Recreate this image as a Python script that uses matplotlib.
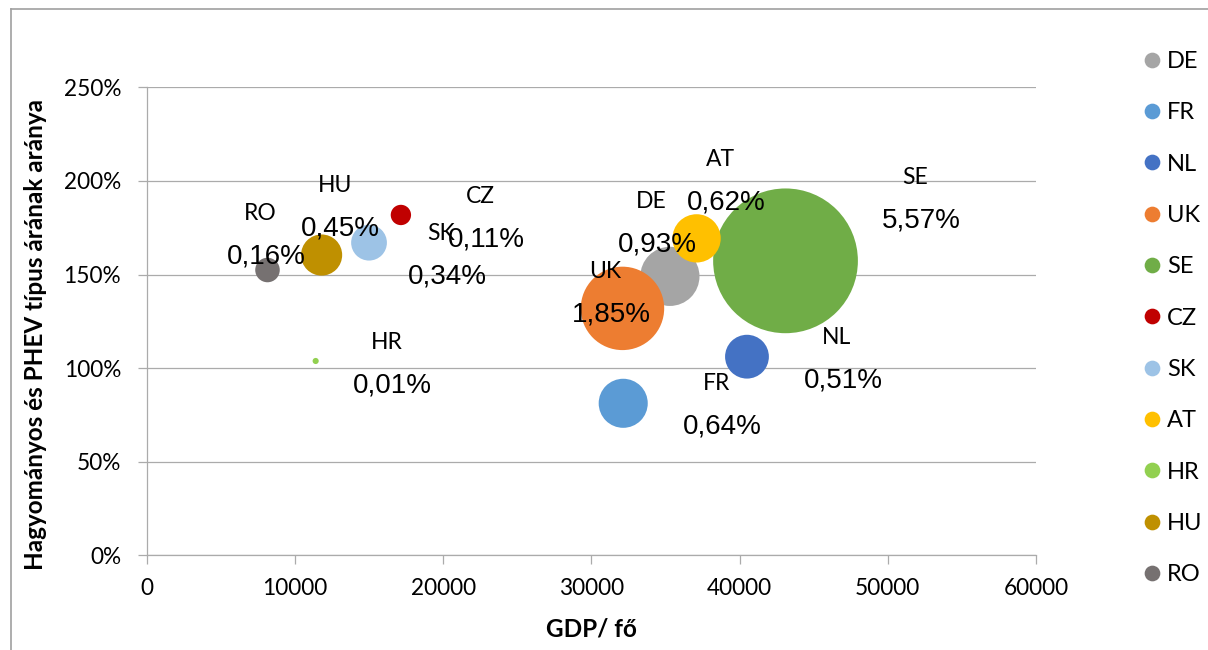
import matplotlib
matplotlib.use("Agg")
import matplotlib.pyplot as plt
from matplotlib.lines import Line2D
from matplotlib.ticker import FuncFormatter, MultipleLocator

# Countries, GDP per capita, conventional/PHEV price ratio and market share (%)
countries = ["DE", "FR", "NL", "UK", "SE", "CZ", "SK", "AT", "HR", "HU", "RO"]
gdp_per_capita = [35300, 32150, 40500, 32100, 43100, 17150, 15000, 37100, 11400, 11800, 8150]
price_ratio = [1.490, 0.812, 1.061, 1.319, 1.573, 1.818, 1.670, 1.693, 1.038, 1.604, 1.524]
phev_share = [0.93, 0.64, 0.51, 1.85, 5.57, 0.11, 0.34, 0.62, 0.01, 0.45, 0.16]

colors = ["#A5A5A5", "#5B9BD5", "#4472C4", "#ED7D31", "#70AD47", "#C00000",
          "#9DC3E6", "#FFC000", "#92D050", "#BF9000", "#767171"]

# label placement (pixel offsets of the name line from the bubble centre)
name_offsets = {
    "DE": (-19, -75), "FR": (93, -20), "NL": (90, -19), "UK": (-17, -37),
    "SE": (130, -83), "CZ": (79, -18), "SK": (72, -9), "AT": (24, -79),
    "HR": (71, -18), "HU": (13, -70), "RO": (-7, -57),
}
value_shift = (6, 43)

DPI = 100
PX = 72 / DPI
BUBBLE_SCALE = 1950  # marker area (pt^2) per percent of share

sans = "Lato"

fig = plt.figure(figsize=(12.08, 6.5), dpi=DPI)
fig.patch.set_facecolor("white")

left, right, bottom, top = 146.7, 1036, 555.3, 87.3
ax = fig.add_axes([left / 1208, 1 - bottom / 650, (right - left) / 1208, (bottom - top) / 650])

for i, c in enumerate(countries):
    ax.scatter([gdp_per_capita[i]], [price_ratio[i]], s=phev_share[i] * BUBBLE_SCALE,
               color=colors[i], edgecolors="none", zorder=3 + i, clip_on=False)

for i, c in enumerate(countries):
    dx, dy = name_offsets[c]
    ax.annotate(c, (gdp_per_capita[i], price_ratio[i]), xytext=(dx * PX, -dy * PX),
                textcoords="offset points", ha="center", va="center",
                fontsize=16.5, family=sans, color="black", zorder=30)
    label = f"{phev_share[i]:.2f}%".replace(".", ",")
    ax.annotate(label, (gdp_per_capita[i], price_ratio[i]),
                xytext=((dx + value_shift[0]) * PX, -(dy + value_shift[1]) * PX),
                textcoords="offset points", ha="center", va="center",
                fontsize=20, family="Liberation Sans", color="black", zorder=30)

ax.set_xlim(0, 60000)
ax.set_ylim(0, 2.5)
ax.xaxis.set_major_locator(MultipleLocator(10000))
ax.yaxis.set_major_locator(MultipleLocator(0.5))
ax.yaxis.set_major_formatter(FuncFormatter(lambda v, p: f"{v * 100:.0f}%"))

grid_c = "#ABABAB"
ax.grid(axis="y", color=grid_c, linewidth=0.9, zorder=0)
ax.set_axisbelow(True)
for side in ["top", "right"]:
    ax.spines[side].set_visible(False)
for side in ["left", "bottom"]:
    ax.spines[side].set_color(grid_c)
    ax.spines[side].set_linewidth(0.9)

ax.tick_params(axis="both", colors=grid_c, length=6.5, width=0.9, labelcolor="black",
               labelsize=16.3, direction="out")
ax.tick_params(axis="y", pad=12)
ax.tick_params(axis="x", pad=9.5)
for lbl in ax.get_xticklabels() + ax.get_yticklabels():
    lbl.set_family(sans)

fig.text(591.5 / 1208, 1 - 629 / 650, "GDP/ fő", ha="center", va="center",
         fontsize=17.5, fontweight="bold", family=sans)
fig.text(36 / 1208, 1 - 334 / 650, "Hagyományos és PHEV típus árának aránya",
         ha="center", va="center", rotation=90, fontsize=17.5, fontweight="bold", family=sans)

handles = [Line2D([], [], linestyle="none", marker="o", markersize=11.3,
                  markerfacecolor=col, markeredgecolor="none") for col in colors]
fig.legend(handles, countries, loc="upper left", bbox_to_anchor=(1141 / 1208, 1 - 51 / 650),
           frameon=False, prop={"family": sans, "size": 17}, handlelength=0.9,
           handletextpad=0.2, labelspacing=1.285, borderpad=0, borderaxespad=0)

# chart frame
fig.add_artist(Line2D([11 / 1208, 11 / 1208], [0, 1 - 9 / 650], transform=fig.transFigure,
                      color="#A0A0A0", linewidth=1.2))
fig.add_artist(Line2D([11 / 1208, 1], [1 - 9 / 650, 1 - 9 / 650], transform=fig.transFigure,
                      color="#A0A0A0", linewidth=1.2))

fig.savefig("out.png", dpi=DPI, facecolor="white")
